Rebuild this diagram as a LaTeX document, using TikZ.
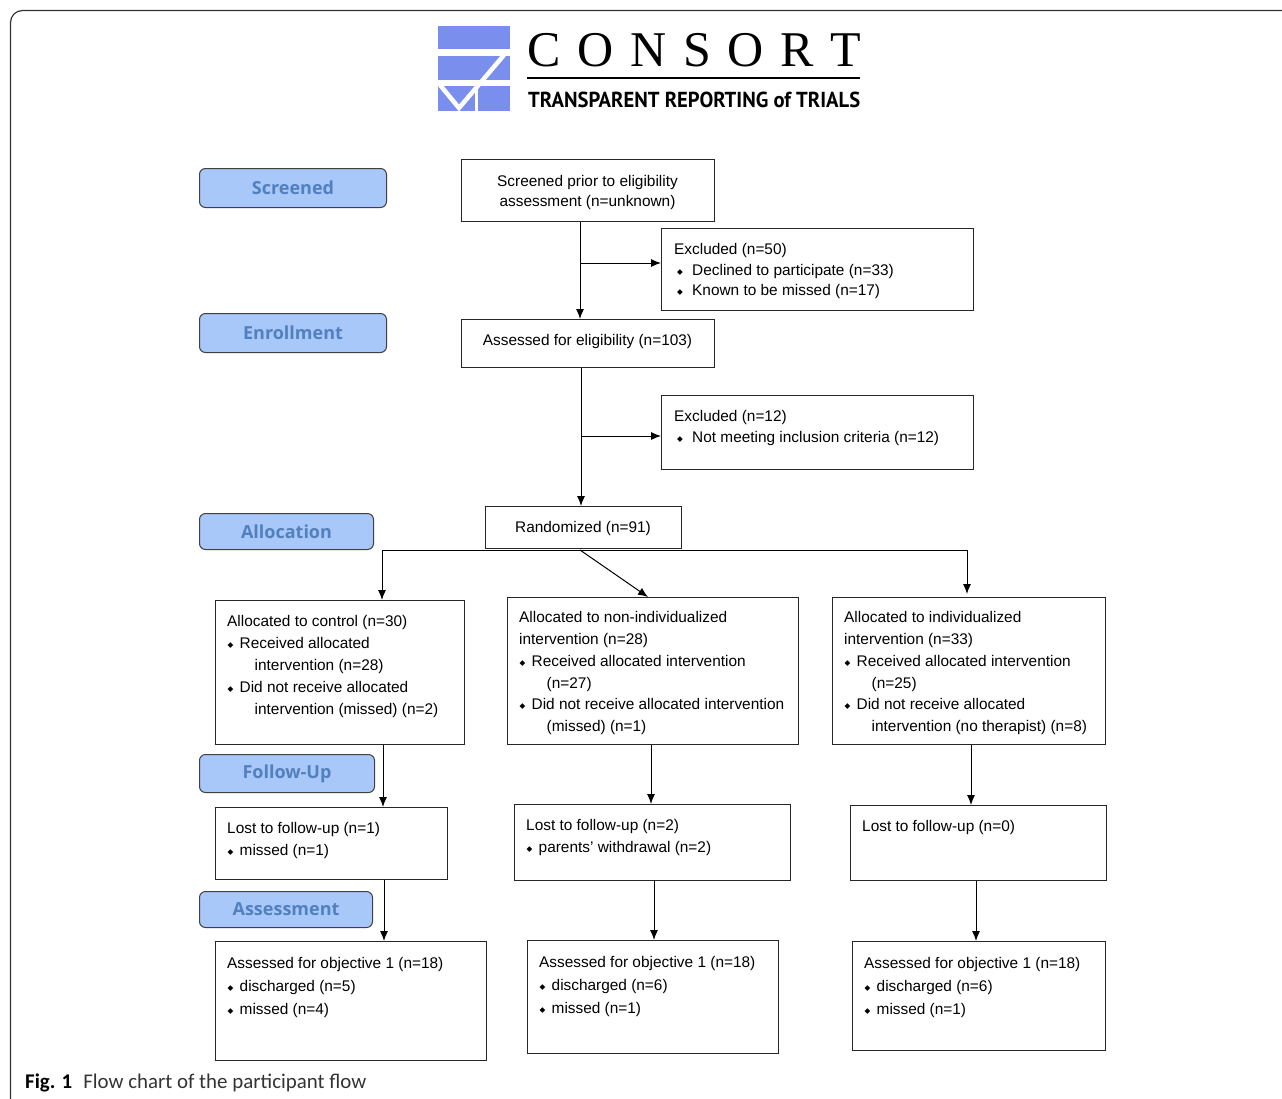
\documentclass[tikz,border=0pt]{standalone}
\usepackage{fontspec}
\setmainfont{Liberation Sans}
\newfontfamily\osans{Open Sans}
\newfontfamily\dejavu{DejaVu Sans}
\newfontfamily\logoserif{Liberation Serif}
\newfontfamily\tagfont{PT Sans}
\newfontfamily\capfont{Carlito}
\usetikzlibrary{arrows.meta,calc}
\definecolor{logoblue}{RGB}{122,142,238}
\definecolor{labfill}{RGB}{168,200,250}
\definecolor{labtext}{RGB}{82,128,190}
\newcommand\dia{\raisebox{1.2pt}{\dejavu\fontsize{7.5}{7.5}\selectfont ◆}}
\newcommand\bx{\makebox[12.5pt][l]{\hspace{0.5pt}\dia}}
\newcommand\bxe{\hspace*{3pt}\makebox[15pt][l]{\dia}}
\newcommand\ind{\hspace*{27.5pt}}
\newcommand\st{\rule{0pt}{11.5pt}}
\tikzset{
  box/.style={draw=black!85, line width=1pt, fill=white, inner sep=0pt, anchor=north west},
  lab/.style={draw=black!75, line width=1pt, fill=labfill, rounded corners=6pt, inner sep=0pt,
    anchor=north west, text=labtext, font=\osans\bfseries\fontsize{18}{18}\selectfont},
  txt/.style={inner sep=0pt, anchor=north west, align=left},
  ctxt/.style={inner sep=0pt, anchor=center, align=center},
  arr/.style={-{Latex[length=10pt,width=8pt]}, line width=1pt, draw=black},
  ln/.style={line width=1pt, draw=black}
}
\begin{document}
\begin{tikzpicture}[x=1pt,y=-1pt]
\useasboundingbox (0,0) rectangle (1282,1098);
% frame
\draw[line width=1.2pt, black!80, rounded corners=12pt] (10.5,1120) -- (10.5,10.5) -- (1300,10.5);
% logo
\fill[logoblue] (438,26) rectangle (510,49);
\fill[logoblue] (438,56) rectangle (510,80);
\fill[logoblue] (438,86) rectangle (510,111);
\draw[white, line width=4.5pt] (440,85) -- (459,108) -- (504,55);
\fill[white] (475,84) rectangle (478,112);
\node[anchor=base west, inner sep=0pt] (logoname) at (527,66)
  {\logoserif\fontsize{50}{50}\selectfont\makebox[334pt][s]{C\hfill O\hfill N\hfill S\hfill O\hfill R\hfill T}};
\draw[line width=1.5pt] (527,78) -- (860,78);
\node[anchor=base west, inner sep=0pt] (logotag) at (528,107)
  {\resizebox{332pt}{15.5pt}{\tagfont\bfseries TRANSPARENT REPORTING of TRIALS}};
% stage labels
\node[lab, minimum width=187pt, minimum height=39pt] (lscr) at (199,168) {Screened};
\node[lab, minimum width=187pt, minimum height=39pt] (lenr) at (199,313) {Enrollment};
\node[lab, minimum width=174pt, minimum height=36pt] (lalloc) at (199,513) {Allocation};
\node[lab, minimum width=175pt, minimum height=38pt] (lfol) at (199,754) {Follow-Up};
\node[lab, minimum width=173pt, minimum height=36pt] (lasm) at (199,891) {Assessment};
% boxes
\node[box, minimum width=253pt, minimum height=62pt] (scr) at (461,159) {};
\node[box, minimum width=312pt, minimum height=82pt] (exc1) at (661,228) {};
\node[box, minimum width=253pt, minimum height=48pt] (elig) at (461,319) {};
\node[box, minimum width=312pt, minimum height=74pt] (exc2) at (661,395) {};
\node[box, minimum width=196pt, minimum height=42pt] (rand) at (485,506) {};
\node[box, minimum width=249pt, minimum height=144pt] (ctrl) at (215,600) {};
\node[box, minimum width=291pt, minimum height=147pt] (nonind) at (507,597) {};
\node[box, minimum width=273pt, minimum height=147pt] (indiv) at (832,597) {};
\node[box, minimum width=232pt, minimum height=72pt] (lost1) at (215,807) {};
\node[box, minimum width=276pt, minimum height=76pt] (lost2) at (514,804) {};
\node[box, minimum width=256pt, minimum height=75pt] (lost3) at (850,805) {};
\node[box, minimum width=271pt, minimum height=119pt] (asm1) at (215,941) {};
\node[box, minimum width=251pt, minimum height=113pt] (asm2) at (527,940) {};
\node[box, minimum width=253pt, minimum height=109pt] (asm3) at (852,941) {};
% box texts
\node[ctxt, font=\fontsize{15.4}{20}\selectfont] (tscr) at (587.5,193)
  {Screened prior to eligibility\\assessment (n=unknown)};
\node[ctxt, font=\fontsize{15.4}{20}\selectfont] (telig) at (587.5,342) {Assessed for eligibility (n=103)};
\node[ctxt, font=\fontsize{15.4}{20}\selectfont] (trand) at (583,529) {Randomized (n=91)};
\node[txt, font=\fontsize{15.4}{20.5}\selectfont] (texc1) at (674,243)
  {\st Excluded (n=50)\\\bxe Declined to participate (n=33)\\\bxe Known to be missed (n=17)};
\node[txt, font=\fontsize{15.4}{20.5}\selectfont] (texc2) at (674,410)
  {\st Excluded (n=12)\\\bxe Not meeting inclusion criteria (n=12)};
\node[txt, font=\fontsize{15.4}{22}\selectfont] (tctrl) at (227,615)
  {\st Allocated to control (n=30)\\\bx Received allocated\\\ind intervention (n=28)\\\bx Did not receive allocated\\\ind intervention (missed) (n=2)};
\node[txt, font=\fontsize{15.4}{21.8}\selectfont] (tnon) at (519,611)
  {\st Allocated to non-individualized\\intervention (n=28)\\\bx Received allocated intervention\\\ind (n=27)\\\bx Did not receive allocated intervention\\\ind (missed) (n=1)};
\node[txt, font=\fontsize{15.4}{21.8}\selectfont] (tind) at (844,611)
  {\st Allocated to individualized\\intervention (n=33)\\\bx Received allocated intervention\\\ind (n=25)\\\bx Did not receive allocated\\\ind intervention (no therapist) (n=8)};
\node[txt, font=\fontsize{15.4}{22}\selectfont] (tlost1) at (227,822)
  {\st Lost to follow-up (n=1)\\\bx missed (n=1)};
\node[txt, font=\fontsize{15.4}{22}\selectfont] (tlost2) at (526,819)
  {\st Lost to follow-up (n=2)\\\bx parents’ withdrawal (n=2)};
\node[txt, font=\fontsize{15.4}{22}\selectfont] (tlost3) at (862,820)
  {\st Lost to follow-up (n=0)};
\node[txt, font=\fontsize{15.4}{23}\selectfont] (tasm1) at (227,957)
  {\st Assessed for objective 1 (n=18)\\\bx discharged (n=5)\\\bx missed (n=4)};
\node[txt, font=\fontsize{15.4}{23}\selectfont] (tasm2) at (539,956)
  {\st Assessed for objective 1 (n=18)\\\bx discharged (n=6)\\\bx missed (n=1)};
\node[txt, font=\fontsize{15.4}{23}\selectfont] (tasm3) at (864,957)
  {\st Assessed for objective 1 (n=18)\\\bx discharged (n=6)\\\bx missed (n=1)};
% connectors
\coordinate (v1) at (580,263);
\draw[arr] (scr.south -| v1) -- (elig.north -| v1);
\draw[arr] (v1) -- (v1 -| exc1.west);
\coordinate (v2) at (581,436);
\draw[arr] (elig.south -| v2) -- (rand.north -| v2);
\draw[arr] (v2) -- (v2 -| exc2.west);
\coordinate (hl) at (382,550);
\coordinate (hr) at (967,550);
\coordinate (hm) at (580,550);
\coordinate (dm) at (648,0);
\draw[ln] (hl) -- (hr);
\draw[arr] (hl) -- (hl |- ctrl.north);
\draw[arr] (hr) -- ($(hr |- indiv.north)+(0,-3)$);
\draw[arr] (hm) -- (dm |- nonind.north);
\coordinate (a1) at (383,0);
\coordinate (a2) at (384,0);
\coordinate (b1) at (651,0);
\coordinate (b2) at (654,0);
\coordinate (c1) at (971,0);
\coordinate (c2) at (976,0);
\draw[arr] (ctrl.south -| a1) -- (lost1.north -| a1);
\draw[arr] (lost1.south -| a2) -- (asm1.north -| a2);
\draw[arr] (nonind.south -| b1) -- (lost2.north -| b1);
\draw[arr] (lost2.south -| b2) -- (asm2.north -| b2);
\draw[arr] (indiv.south -| c1) -- (lost3.north -| c1);
\draw[arr] (lost3.south -| c2) -- (asm3.north -| c2);
% caption
\node[anchor=base west, inner sep=0pt] (caption) at (25,1088)
  {\capfont\fontsize{20.9}{21}\selectfont\textbf{Fig. 1}\hspace{11pt}{\color{black!80}Flow chart of the participant flow}};
\end{tikzpicture}
\end{document}
